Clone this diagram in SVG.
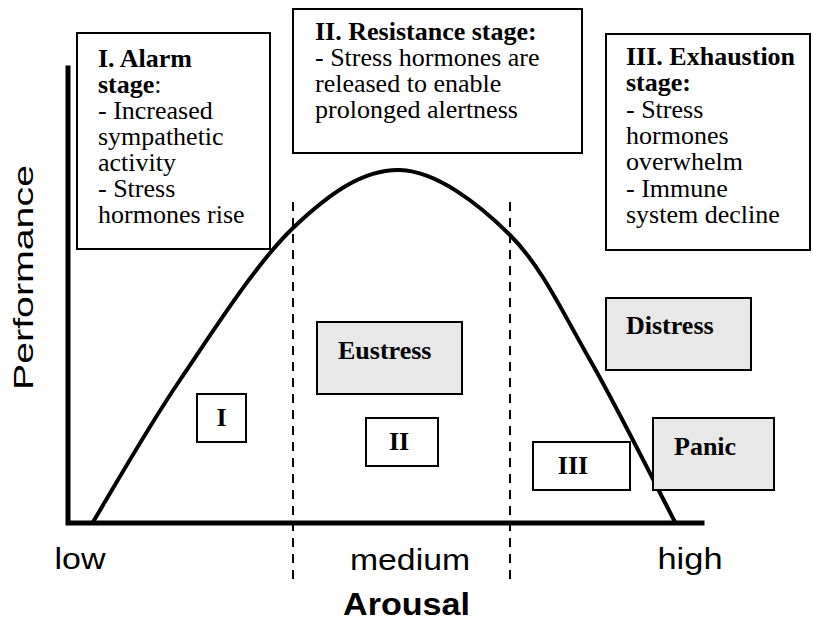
<svg xmlns="http://www.w3.org/2000/svg" width="813" height="623" viewBox="0 0 813 623">
  <style>
    .box { fill: #ffffff; stroke: #000000; stroke-width: 2; }
    .shade { fill: #e8e8e8; stroke: #000000; stroke-width: 2; }
    .serif { font-family: "Liberation Serif", "Times New Roman", serif; font-size: 26px; fill: #000; }
    .b { font-weight: bold; }
    .sans { font-family: "Liberation Sans", Arial, sans-serif; fill: #000; }
    .axis { fill: none; stroke: #000; stroke-width: 5; stroke-linecap: square; }
    .curve { fill: none; stroke: #000; stroke-width: 4; }
    .guide { fill: none; stroke: #000; stroke-width: 2; stroke-dasharray: 9 7; }
  </style>
  <rect width="813" height="623" fill="#ffffff"/>

  <!-- axes, guide lines and the performance curve -->
  <g id="connectors">
    <polyline class="axis" points="68,68 68,523 702,523"/>
    <line class="guide" x1="293" y1="202" x2="293" y2="586"/>
    <line class="guide" x1="510" y1="202" x2="510" y2="586"/>
    <path class="curve" d="M93,522 C107.5,498.3 146.7,429 180,380 C213.3,331 256.3,263 293,228 C329.7,193 363.8,169 400,170 C436.2,171.2 478.3,203.3 510,235 C541.7,266.7 562.5,312.2 590,360 C617.5,407.8 660.8,495 675,522"/>
  </g>

  <!-- axis labels -->
  <g id="axis-labels" class="sans">
    <text x="33" y="277.5" font-size="28" text-anchor="middle" textLength="225" lengthAdjust="spacingAndGlyphs" transform="rotate(-90 33 277.5)">Performance</text>
    <text x="80" y="569" font-size="30" text-anchor="middle" textLength="51" lengthAdjust="spacingAndGlyphs">low</text>
    <text x="410" y="570" font-size="30" text-anchor="middle" textLength="120" lengthAdjust="spacingAndGlyphs">medium</text>
    <text x="690" y="569" font-size="30" text-anchor="middle" textLength="65" lengthAdjust="spacingAndGlyphs">high</text>
    <text x="406.5" y="615" font-size="32" font-weight="bold" text-anchor="middle" textLength="127" lengthAdjust="spacingAndGlyphs">Arousal</text>
  </g>

  <!-- stage descriptions -->
  <g id="alarm-stage">
    <rect class="box" x="77" y="33" width="193" height="216"/>
    <text class="serif">
      <tspan x="98" y="67" class="b">I. Alarm</tspan>
      <tspan x="98" y="93"><tspan class="b">stage</tspan>:</tspan>
      <tspan x="98" y="119">- Increased</tspan>
      <tspan x="98" y="145">sympathetic</tspan>
      <tspan x="98" y="171">activity</tspan>
      <tspan x="98" y="197">- Stress</tspan>
      <tspan x="98" y="223">hormones rise</tspan>
    </text>
  </g>

  <g id="resistance-stage">
    <rect class="box" x="293" y="9" width="289" height="144"/>
    <text class="serif">
      <tspan x="315" y="40" class="b">II. Resistance stage:</tspan>
      <tspan x="315" y="66">- Stress hormones are</tspan>
      <tspan x="315" y="92">released to enable</tspan>
      <tspan x="315" y="118">prolonged alertness</tspan>
    </text>
  </g>

  <g id="exhaustion-stage">
    <rect class="box" x="606" y="34" width="204" height="216"/>
    <text class="serif">
      <tspan x="626" y="65" class="b">III. Exhaustion</tspan>
      <tspan x="626" y="91.3" class="b">stage:</tspan>
      <tspan x="626" y="117.6">- Stress</tspan>
      <tspan x="626" y="143.9">hormones</tspan>
      <tspan x="626" y="170.2">overwhelm</tspan>
      <tspan x="626" y="196.5">- Immune</tspan>
      <tspan x="626" y="222.8">system decline</tspan>
    </text>
  </g>

  <!-- stress zones -->
  <g id="eustress">
    <rect class="shade" x="317" y="322" width="145" height="72"/>
    <text class="serif b" x="338" y="359">Eustress</text>
  </g>
  <g id="distress">
    <rect class="shade" x="606" y="298" width="145" height="72"/>
    <text class="serif b" x="626" y="334">Distress</text>
  </g>
  <g id="panic">
    <rect class="shade" x="653" y="418" width="121" height="72"/>
    <text class="serif b" x="674" y="455">Panic</text>
  </g>

  <!-- stage markers -->
  <g id="stage-1">
    <rect class="box" x="197" y="394" width="49" height="48"/>
    <text class="serif b" x="221.5" y="426" text-anchor="middle">I</text>
  </g>
  <g id="stage-2">
    <rect class="box" x="366" y="418" width="72" height="48"/>
    <text class="serif b" x="399" y="450" text-anchor="middle">II</text>
  </g>
  <g id="stage-3">
    <rect class="box" x="533" y="442" width="97" height="48"/>
    <text class="serif b" x="573" y="474" text-anchor="middle">III</text>
  </g>
</svg>
